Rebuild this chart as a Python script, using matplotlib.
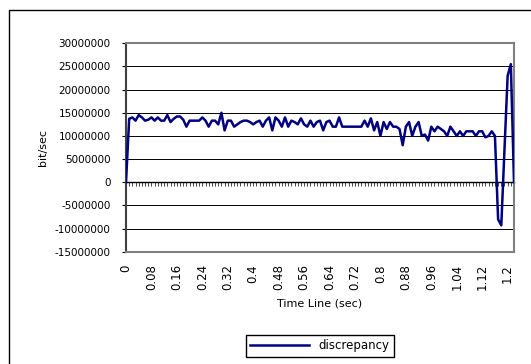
import numpy as np
import matplotlib
matplotlib.use("Agg")
import matplotlib.pyplot as plt
from matplotlib.patches import Rectangle

# time categories, 0.01 s apart
times = [round(i * 0.01, 2) for i in range(123)]

# discrepancy in bit/sec (millions)
disc_m = [
    0, 13.7, 14, 13.3, 14.5, 14, 13.3, 13.5, 14, 13.3,
    14, 13.3, 13.3, 14.5, 13, 13.7, 14.2, 14.2, 13.5, 12,
    13.3, 13.3, 13.3, 13.3, 14, 13.3, 12, 13.3, 13.3, 12.5,
    15, 11.2, 13.3, 13.3, 12, 12.5, 13, 13.3, 13.3, 13,
    12.5, 13, 13.3, 12, 13.3, 14, 11.2, 14, 13.3, 12,
    14, 12, 13.3, 13, 12.5, 13.8, 12.5, 12, 13.3, 12,
    13, 13.3, 11.2, 13, 13.3, 12, 12, 14, 12, 12,
    12, 12, 12, 12, 12, 13.3, 12, 13.8, 11.2, 13,
    10, 13, 11.5, 13, 12, 12, 11.5, 8, 12, 13,
    10, 12, 13, 10, 10.3, 9, 12, 11, 12, 11.5,
    11, 10, 12, 11, 10, 11, 10, 11, 11, 11,
    10, 11, 11, 9.7, 10, 11, 10, -8, -9.3, 7,
    23, 25.5, 0,
]
discrepancy = [v * 1e6 for v in disc_m]

y_ticks = list(range(-15000000, 30000001, 5000000))

fig = plt.figure(figsize=(5.31, 3.64), dpi=100)
fig.patches.append(Rectangle((9 / 531, -0.1), 1.2, 1 - 10 / 364 + 0.1,
                             transform=fig.transFigure, fill=False,
                             edgecolor="black", linewidth=1))

ax = fig.add_axes([0.2373, 0.3085, 0.968 - 0.2373, 0.881 - 0.3085])
x = np.arange(len(times))
ax.plot(x, discrepancy, color="#000080", linewidth=1.8, label="discrepancy", zorder=3)

ax.set_xlim(0, len(times) - 1)
ax.set_ylim(-15000000, 30000000)
ax.set_yticks(y_ticks)
ax.set_yticklabels([str(v) for v in y_ticks], fontsize=7.5)
ax.yaxis.grid(True, color="black", linewidth=0.7)
ax.tick_params(axis="y", length=3, width=0.8, pad=8)

lab_idx = x[::8]
ax.set_xticks(lab_idx)
ax.set_xticklabels([f"{times[i]:g}" for i in lab_idx], rotation=90, fontsize=8.5)
ax.tick_params(axis="x", length=0, pad=9)

for s in ax.spines.values():
    s.set_color("#808080")
    s.set_linewidth(1.5)
ax.spines["left"].set_color("#404040")

# category axis crossing at zero, with a tick on every category
zero_frac = (0 - ax.get_ylim()[0]) / (ax.get_ylim()[1] - ax.get_ylim()[0])
sec = ax.secondary_xaxis(zero_frac)
sec.set_xticks(x)
sec.tick_params(axis="x", direction="out", length=3, width=0.5,
                labelbottom=False, labeltop=False, color="black")
sec.spines["bottom"].set_color("black")
sec.spines["top"].set_visible(False)
sec.spines["bottom"].set_linewidth(1)

ax.set_xlabel("Time Line (sec)", fontsize=8, labelpad=6)
ax.set_ylabel("bit/sec", fontsize=8, labelpad=5)

fig.legend(loc="center", bbox_to_anchor=(320 / 531, 1 - 346 / 364),
           fontsize=8.5, frameon=True, fancybox=False, edgecolor="black",
           handlelength=5, borderpad=0.4, framealpha=1)

fig.savefig("out.png", dpi=100)
